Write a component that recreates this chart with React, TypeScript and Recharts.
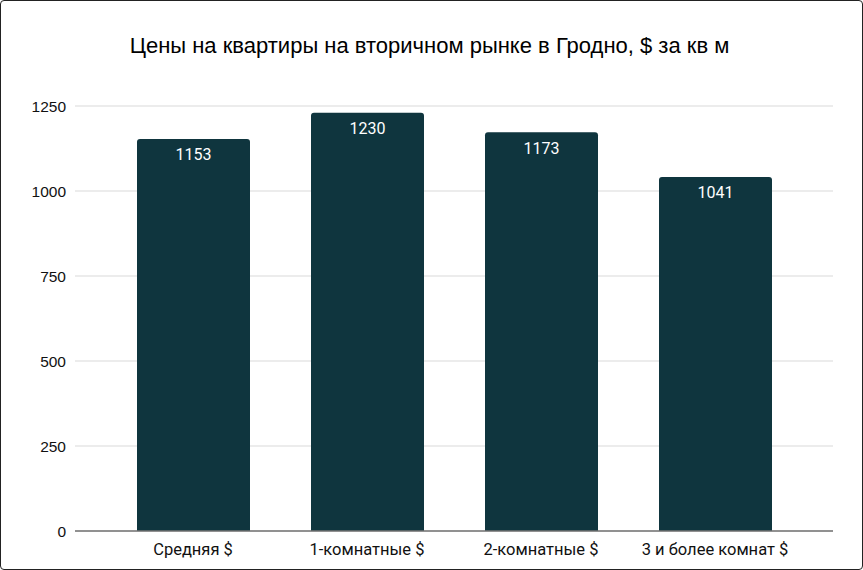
import { BarChart, Bar, XAxis, YAxis, CartesianGrid, LabelList } from "recharts";

// Цены на вторичном рынке, $ за кв м
const categories = ["Средняя $", "1-комнатные $", "2-комнатные $", "3 и более комнат $"];
const prices = [1153, 1230, 1173, 1041];
const yTicks = [0, 250, 500, 750, 1000, 1250];

const chartData = categories.map((name, i) => ({ name, price: prices[i] }));

export default function App() {
  return (
    <div
      style={{
        position: "absolute",
        left: 0,
        top: 0,
        width: 863,
        height: 570,
        boxSizing: "border-box",
        border: "1px solid #222",
        borderRadius: 4,
        background: "#fff",
        overflow: "hidden",
      }}
    >
      <div
        style={{
          position: "absolute",
          top: 32,
          left: 0,
          width: 857,
          textAlign: "center",
          fontFamily: "'Liberation Sans', Arial, sans-serif",
          fontSize: 22,
          color: "#000",
        }}
      >
        Цены на квартиры на вторичном рынке в Гродно, $ за кв м
      </div>
      <div style={{ position: "absolute", left: -1, top: -1 }}>
        <BarChart
          width={863}
          height={570}
          data={chartData}
          margin={{ top: 106, right: 30, left: 0, bottom: 9 }}
          barSize={113}
        >
          <CartesianGrid vertical={false} stroke="#d9d9d9" strokeWidth={1.2} />
          <XAxis
            dataKey="name"
            height={30}
            padding={{ left: 31, right: 31 }}
            tickLine={false}
            tickSize={0}
            tickMargin={12}
            axisLine={{ stroke: "#737373", strokeWidth: 1.5 }}
            tick={{ fontSize: 16.5, fill: "#111", fontFamily: "Roboto, sans-serif" }}
            interval={0}
          />
          <YAxis
            width={75}
            domain={[0, 1250]}
            ticks={yTicks}
            axisLine={false}
            tickLine={false}
            tickSize={0}
            tickMargin={9}
            tick={{ fontSize: 15.5, fill: "#111", fontFamily: "'Liberation Sans', Arial, sans-serif" }}
          />
          <Bar dataKey="price" fill="#0f353e" radius={[3, 3, 0, 0]} isAnimationActive={false}>
            <LabelList
              dataKey="price"
              position="insideTop"
              offset={10}
              fill="#fff"
              style={{ fontSize: 16, fontFamily: "Roboto, sans-serif" }}
            />
          </Bar>
        </BarChart>
      </div>
    </div>
  );
}
